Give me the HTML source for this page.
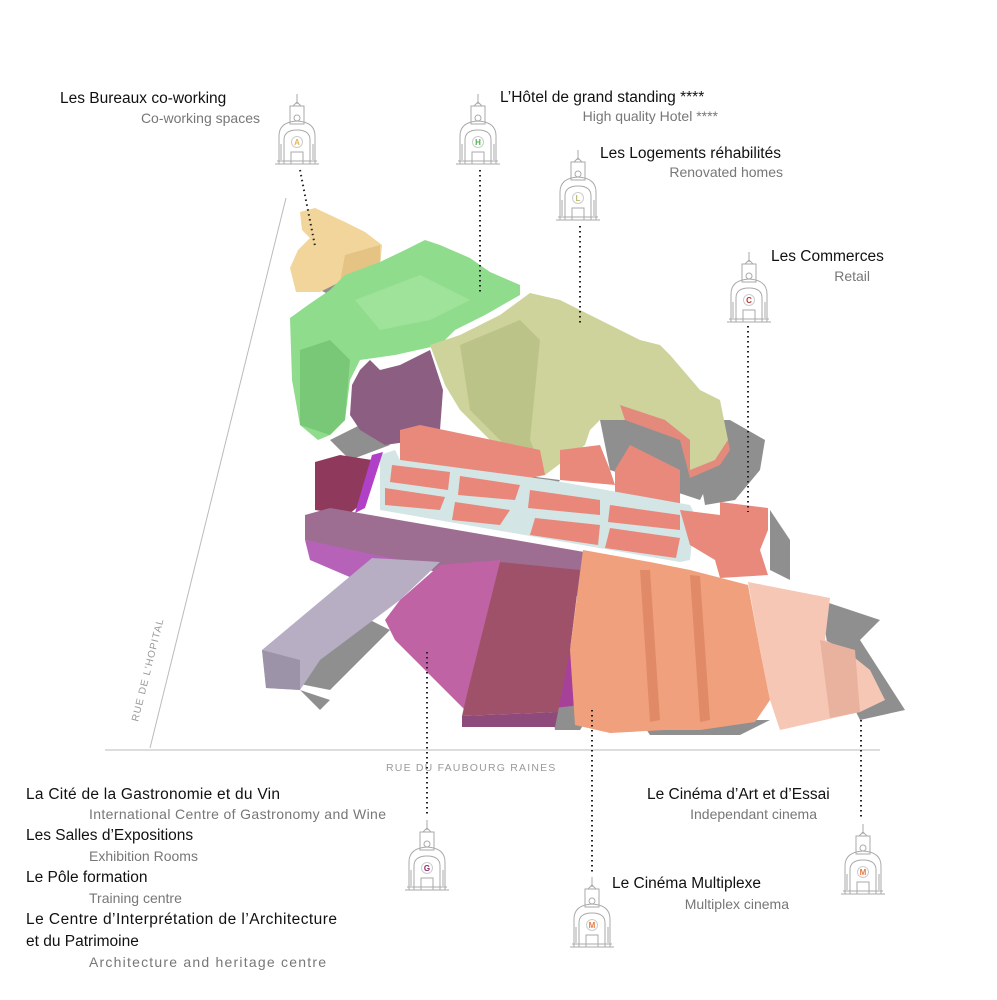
<!DOCTYPE html>
<html><head><meta charset="utf-8"><style>
html,body{margin:0;padding:0;background:#fff;}
svg{display:block;}
.t{font-family:"Liberation Sans",sans-serif;font-size:15.5px;fill:#111;}
.s{font-family:"Liberation Sans",sans-serif;font-size:14px;fill:#777;}
.ic{fill:none;stroke:#aaa;stroke-width:1;}
.dot{stroke:#222;stroke-width:2;stroke-dasharray:1.5 3.5;fill:none;}
</style></head><body>
<svg width="997" height="1000" viewBox="0 0 997 1000" xmlns="http://www.w3.org/2000/svg">
<defs>
<g id="ico">
 <line class="ic" x1="0" y1="0" x2="0" y2="10"/>
 <path class="ic" d="M-4 12 L0 8 L4 12 Z"/>
 <rect class="ic" x="-7" y="12" width="14" height="18"/>
 <circle class="ic" cx="0" cy="24" r="3"/>
 <path class="ic" d="M-18 70 V42 Q-18 28 0 27 Q18 28 18 42 V70"/>
 <path class="ic" d="M-13 70 V46 Q-13 36 0 36 Q13 36 13 46 V70"/>
 <path class="ic" d="M-22 70 H22 M-20 67 H20 M-16 50 V66 M16 50 V66 M-6 70 V58 H6 V70"/>
 <circle cx="0" cy="48" r="5.5" fill="none" stroke="#ccc"/>
</g>
</defs>

<line x1="286" y1="198" x2="150" y2="748" stroke="#bbb" stroke-width="1"/>
<line x1="105" y1="750" x2="880" y2="750" stroke="#bbb" stroke-width="1"/>
<text x="0" y="0" transform="translate(138,722) rotate(-76)" font-family="Liberation Sans,sans-serif" font-size="10" fill="#999" letter-spacing="1">RUE DE L'HOPITAL</text>
<text x="386" y="771" font-family="Liberation Sans,sans-serif" font-size="10.5" fill="#999" letter-spacing="1.2">RUE DU FAUBOURG RAINES</text>

<g fill="#8f8f8f">
<polygon points="320,290 380,265 395,275 340,300"/>
<polygon points="330,440 360,425 390,445 350,460"/>
<polygon points="600,420 660,400 700,420 720,460 700,500 610,470"/>
<polygon points="690,420 730,420 765,440 760,470 735,500 705,505"/>
<polygon points="520,475 560,480 540,510 510,500"/>
<polygon points="770,510 790,540 790,580 770,570"/>
<polygon points="820,600 880,620 860,640 905,710 860,720 830,660"/>
<polygon points="280,680 350,610 390,630 330,690"/>
<polygon points="300,690 330,700 320,710"/>
<polygon points="550,700 600,700 580,730 555,730"/>
<polygon points="640,720 770,720 740,735 650,735"/>
</g>

<polygon fill="#f1d59a" points="300,212 315,208 345,222 365,232 382,245 380,268 340,282 320,292 296,292 290,268 298,250 310,238 302,230"/>
<polygon fill="#e5c385" points="345,255 380,245 380,268 340,282"/>
<polygon fill="#8fdc8c" points="290,318 308,305 330,290 345,275 380,262 405,250 425,240 440,245 470,258 490,272 520,285 520,295 485,315 455,330 440,345 395,355 360,360 350,380 345,420 330,435 318,440 300,425 292,380"/>
<polygon fill="#79c877" points="300,350 330,340 350,360 345,420 330,435 300,425"/>
<polygon fill="#9fe39b" points="355,300 420,275 470,300 430,320 380,330"/>
<polygon fill="#8c5f82" points="352,385 360,370 370,360 380,370 400,365 430,350 443,390 440,430 420,440 385,445 360,430 350,415"/>
<polygon fill="#cdd39a" points="430,345 460,335 500,315 530,293 560,300 600,320 640,340 660,345 670,355 700,390 720,400 728,440 715,460 690,472 685,440 640,420 600,420 590,430 585,445 545,475 515,455 490,440 460,410 445,385"/>
<polygon fill="#bcc388" points="460,345 520,320 540,340 530,440 545,475 515,455 470,410"/>
<polygon fill="#e48a7d" points="620,405 665,420 690,440 690,470 715,460 728,440 730,450 720,465 690,478 680,440 625,420"/>
<polygon fill="#e8897c" points="400,430 420,425 540,450 545,475 520,480 400,460"/>
<polygon fill="#e8897c" points="560,450 600,445 610,470 615,485 560,480"/>
<polygon fill="#e8897c" points="615,470 630,445 680,470 680,510 615,500"/>
<polygon fill="#d3e5e5" points="380,455 395,450 400,460 550,480 690,505 695,515 690,560 680,562 380,510"/>
<g fill="#e8877a">
<polygon points="385,488 445,497 440,510 385,505"/>
<polygon points="392,465 450,472 448,490 390,482"/>
<polygon points="460,476 520,485 515,500 458,495"/>
<polygon points="455,502 510,510 500,525 452,520"/>
<polygon points="530,490 600,500 600,515 528,508"/>
<polygon points="535,518 600,525 598,545 530,535"/>
<polygon points="610,505 680,515 680,530 608,522"/>
<polygon points="610,528 680,538 676,558 605,548"/>
</g>
<polygon fill="#e8897c" points="680,510 720,515 720,502 768,508 768,530 760,550 768,575 720,578 715,560 690,545"/>
<polygon fill="#8f3a5c" points="315,462 340,455 372,460 360,505 348,515 315,510"/>
<polygon fill="#b040c8" points="372,455 383,452 365,508 355,513"/>
<polygon fill="#9e6e92" points="305,515 330,508 590,553 590,598 470,580 305,540"/>
<polygon fill="#b662b8" points="305,540 400,560 380,590 310,560"/>
<polygon fill="#b7aec3" points="262,650 372,558 440,562 400,600 320,660 300,690 266,688"/>
<polygon fill="#9d93a8" points="262,650 300,660 300,690 266,688"/>
<polygon fill="#c063a4" points="385,620 400,600 440,565 500,560 478,690 465,710 395,640"/>
<polygon fill="#a74098" points="560,645 585,650 580,705 555,708"/>
<polygon fill="#a0516a" points="500,562 580,570 570,650 558,712 462,716 468,690"/>
<polygon fill="#8e4a7b" points="462,716 558,712 555,727 462,727"/>
<polygon fill="#f0a07c" points="583,550 650,562 690,570 748,585 760,650 770,700 755,722 700,730 665,730 610,733 575,725 570,650"/>
<polygon fill="#e08a68" points="640,570 650,570 660,720 650,722"/>
<polygon fill="#e08a68" points="690,575 700,576 710,720 700,722"/>
<polygon fill="#f5c7b4" points="748,582 830,598 825,640 845,650 870,670 885,700 860,712 780,730 770,700 760,650"/>
<polygon fill="#e8b29e" points="820,640 855,650 860,712 830,718"/>

<line class="dot" x1="300" y1="170" x2="315" y2="246"/>
<line class="dot" x1="480" y1="170" x2="480" y2="292"/>
<line class="dot" x1="580" y1="226" x2="580" y2="326"/>
<line class="dot" x1="748" y1="326" x2="748" y2="512"/>
<line class="dot" x1="427" y1="652" x2="427" y2="815"/>
<line class="dot" x1="592" y1="710" x2="592" y2="872"/>
<line class="dot" x1="861" y1="720" x2="861" y2="820"/>

<use href="#ico" x="297" y="94"/>
<use href="#ico" x="478" y="94"/>
<use href="#ico" x="578" y="150"/>
<use href="#ico" x="749" y="252"/>
<use href="#ico" x="427" y="820"/>
<use href="#ico" x="592" y="877"/>
<use href="#ico" x="863" y="824"/>
<g font-family="Liberation Sans,sans-serif" font-size="8" font-weight="bold" text-anchor="middle">
<text x="297" y="145" fill="#e8b550">A</text>
<text x="478" y="145" fill="#4cb848">H</text>
<text x="578" y="201" fill="#b8bd70">L</text>
<text x="749" y="303" fill="#c03030">C</text>
<text x="427" y="871" fill="#8a2a6a">G</text>
<text x="592" y="928" fill="#e87a3a">M</text>
<text x="863" y="875" fill="#e87a3a">M</text>
</g>

<text class="t" x="60" y="103">Les Bureaux co-working</text>
<text class="s" x="260" y="123" text-anchor="end">Co-working spaces</text>
<text class="t" x="500" y="102">L’Hôtel de grand standing ****</text>
<text class="s" x="718" y="121" text-anchor="end">High quality Hotel ****</text>
<text class="t" x="600" y="158">Les Logements réhabilités</text>
<text class="s" x="783" y="177" text-anchor="end">Renovated homes</text>
<text class="t" x="771" y="261">Les Commerces</text>
<text class="s" x="870" y="281" text-anchor="end">Retail</text>

<text class="t" x="26" y="799" textLength="254">La Cité de la Gastronomie et du Vin</text>
<text class="s" x="89" y="819" textLength="297">International Centre of Gastronomy and Wine</text>
<text class="t" x="26" y="840">Les Salles d’Expositions</text>
<text class="s" x="89" y="861">Exhibition Rooms</text>
<text class="t" x="26" y="882">Le Pôle formation</text>
<text class="s" x="89" y="903">Training centre</text>
<text class="t" x="26" y="924" textLength="311">Le Centre d’Interprétation de l’Architecture</text>
<text class="t" x="26" y="946">et du Patrimoine</text>
<text class="s" x="89" y="967" textLength="237">Architecture and heritage centre</text>

<text class="t" x="647" y="799">Le Cinéma d’Art et d’Essai</text>
<text class="s" x="817" y="819" text-anchor="end">Independant cinema</text>
<text class="t" x="612" y="888">Le Cinéma Multiplexe</text>
<text class="s" x="789" y="909" text-anchor="end">Multiplex cinema</text>
</svg>
</body></html>
